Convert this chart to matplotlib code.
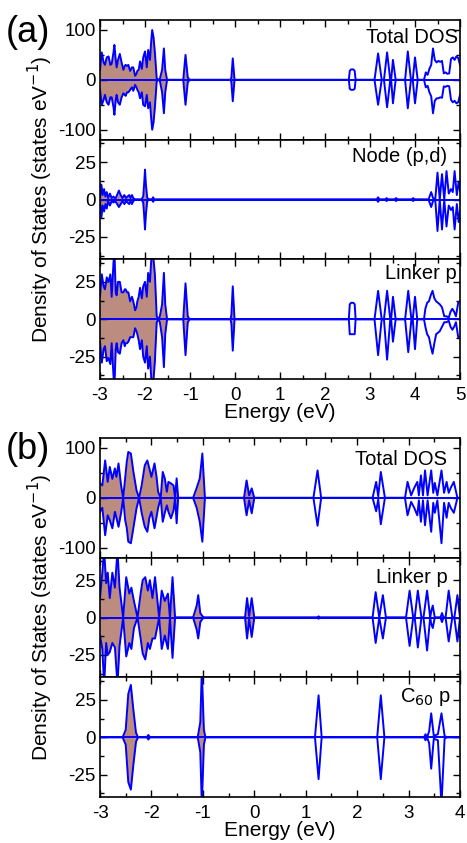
import numpy as np
import matplotlib
matplotlib.use("Agg")
import matplotlib.pyplot as plt
from matplotlib.ticker import MultipleLocator

plt.rcParams['font.family'] = ['Liberation Sans', 'DejaVu Sans']
plt.rcParams['axes.unicode_minus'] = False

# ---------------- Panel (a) ----------------
a_tot_E = [-3.00, -2.96, -2.92, -2.89, -2.85, -2.81, -2.77, -2.74, -2.70, -2.68, -2.65, -2.63, -2.60, -2.56,
           -2.52, -2.48, -2.45, -2.43, -2.40, -2.37, -2.33, -2.29, -2.26, -2.22, -2.19, -2.17, -2.14, -2.11,
           -2.07, -2.04, -2.00, -1.96, -1.93, -1.89, -1.86, -1.84, -1.81, -1.78, -1.74, -1.70, -1.67, -1.62,
           -1.58, -1.55, -1.51, -1.15, -1.10, -1.05, -1.01, -0.10, -0.08, -0.05, -0.01,
           2.53, 2.55, 2.58, 2.63, 2.66, 2.68,
           3.10, 3.18, 3.26, 3.31, 3.38, 3.45, 3.47, 3.51, 3.57,
           3.78, 3.84, 3.91, 3.95, 4.00, 4.06,
           4.20, 4.24, 4.28, 4.32, 4.36, 4.40, 4.44, 4.48, 4.52, 4.56, 4.60, 4.64, 4.68, 4.72, 4.76,
           4.80, 4.84, 4.88, 4.92, 4.96, 5.00]
a_tot_up = [20, 55, 35, 30, 45, 47, 30, 32, 55, 70, 40, 25, 40, 52,
            35, 20, 28, 30, 28, 30, 18, 25, 25, 8, 12, 18, 20, 37,
            22, 45, 57, 25, 60, 40, 80, 100, 85, 55, 3, 0, 2, 20,
            63, 20, 0, 0, 50, 5, 0, 0, 5, 43, 0,
            0, 18, 21, 21, 18, 0,
            0, 53, 0, 0, 55, 0, 0, 40, 0,
            0, 57, 0, 0, 45, 0,
            0, 15, 10, 22, 30, 63, 40, 35, 38, 36, 38, 13, 15, 12, 13,
            42, 45, 40, 47, 44, 30]
a_tot_dn = [-20, -50, -40, -30, -45, -50, -35, -35, -55, -70, -40, -30, -45, -50,
            -35, -27, -30, -32, -25, -25, -20, -15, -22, -10, -15, -20, -25, -37,
            -25, -50, -53, -30, -57, -45, -80, -100, -85, -55, -3, 0, -2, -25,
            -67, -25, 0, 0, -50, -5, 0, 0, -5, -43, 0,
            0, -18, -20, -20, -18, 0,
            0, -50, 0, 0, -55, 0, 0, -47, 0,
            0, -57, 0, 0, -47, 0,
            0, -15, -12, -25, -33, -67, -42, -37, -37, -35, -36, -13, -14, -12, -13,
            -40, -45, -42, -47, -45, -30]

a_node_E = [-3.00, -2.97, -2.94, -2.91, -2.88, -2.85, -2.82, -2.78, -2.74, -2.70, -2.66, -2.62, -2.58,
            -2.54, -2.50, -2.46, -2.42, -2.39, -2.35, -2.32, -2.29, -2.26, -2.22, -2.08, -2.04, -2.02,
            -2.00, -1.98, -1.95, -1.90, -1.85, -1.82, -1.79,
            3.15, 3.18, 3.21, 3.34, 3.37, 3.40, 3.55, 3.58, 3.61, 3.93, 3.96, 3.99,
            4.30, 4.36, 4.40, 4.45, 4.50, 4.55, 4.60, 4.65, 4.70, 4.75, 4.80, 4.84, 4.88, 4.93, 4.97, 5.00]
a_node_up = [0, 10, 3, 7, 2, 5, 1, 4, 1, 2, 0.5, 3, 6,
             3, 1, 3, 1, 2, 3, 1, 3, 1, 0, 0, 2, 10,
             20, 10, 1, 0, 0, 1.5, 0,
             0, 1.5, 0, 0, 1, 0, 0, 1, 0, 0, 1, 0,
             0, 5, 1, 0, 18, 0, 17, 0, 19, 4, 7, 5, 19, 3, 12, 6]
a_node_dn = [0, -12, -4, -8, -3, -6, -1, -4, -1, -2, -1, -3, -5,
             -3, -1, -3, -1, -2, -3, -1, -3, -1, 0, 0, -2, -10,
             -20, -10, -1, 0, 0, -1.5, 0,
             0, -1.5, 0, 0, -1, 0, 0, -1, 0, 0, -1, 0,
             0, -5, -1, 0, -21, 0, -20, 0, -18, -4, -7, -5, -20, -3, -15, -8]

a_link_E = a_tot_E[:53] + [
    2.53, 2.55, 2.58, 2.63, 2.66, 2.68,
    3.10, 3.18, 3.26, 3.31, 3.38, 3.45, 3.47, 3.51, 3.57,
    3.78, 3.85, 3.92, 3.95, 4.00, 4.05,
    4.20, 4.23, 4.27, 4.31, 4.35, 4.39, 4.43, 4.47, 4.51, 4.55, 4.60, 4.65, 4.70, 4.75,
    4.79, 4.83, 4.87, 4.91, 4.96, 5.00]
a_link_up = [15, 30, 22, 20, 28, 25, 30, 15, 38, 45, 18, 16, 25, 25,
             18, 18, 20, 20, 18, 18, 12, 15, 12, 6, 8, 12, 15, 21,
             14, 22, 25, 15, 31, 25, 40, 48, 40, 30, 2, 0, 2, 10,
             31, 10, 0, 0, 24, 2, 0, 0, 3, 22, 0,
             0, 10, 11, 11, 10, 0,
             0, 19, 0, 0, 19, 0, 0, 15, 0,
             0, 19, 0, 0, 15, 0,
             0, 7, 11, 12, 16, 19, 14, 12, 11, 10, 8, 2, 2, 1,
             5, 7, 5, 2, 11, 12]
a_link_dn = [-15, -29, -20, -18, -28, -26, -30, -16, -38, -45, -20, -16, -22, -23,
             -16, -14, -18, -16, -16, -15, -12, -12, -12, -6, -8, -10, -14, -20,
             -14, -25, -29, -18, -33, -25, -40, -48, -40, -28, -2, 0, -2, -12,
             -32, -10, 0, 0, -24, -2, 0, 0, -3, -21, 0,
             0, -10, -10, -10, -10, 0,
             0, -24, 0, 0, -27, 0, 0, -15, 0,
             0, -22, 0, 0, -20, 0,
             0, -5, -10, -12, -18, -23, -16, -10, -9, -8, -5, -2, -2, -1,
             -5, -7, -5, -2, -12, -12]

# ---------------- Panel (b) ----------------
b_tot_E = [-3.00, -2.955, -2.90, -2.85, -2.81, -2.76, -2.71, -2.68, -2.64, -2.59, -2.55, -2.51, -2.48,
           -2.45, -2.40, -2.35, -2.29, -2.24, -2.19, -2.13, -2.08, -2.04, -2.00, -1.94, -1.90, -1.87,
           -1.82, -1.78, -1.74, -1.70, -1.67, -1.62, -1.57, -1.54, -1.51, -1.48,
           -1.19, -1.12, -1.06, -1.01, -0.96, -0.20, -0.15, -0.10, -0.05, 0.00,
           1.15, 1.23, 1.30, 2.30, 2.37, 2.41, 2.46, 2.54,
           2.93, 2.98, 3.05, 3.11, 3.17, 3.20, 3.24, 3.28, 3.32, 3.37, 3.44, 3.48, 3.51, 3.56,
           3.64, 3.69, 3.74, 3.78, 3.82, 3.88, 3.95, 4.00]
b_tot_up = [29, 25, 75, 32, 62, 38, 59, 42, 69, 25, 0, 40, 72,
            92, 89, 52, 15, 0, 25, 65, 75, 59, 42, 69, 42, 12,
            0, 52, 39, 12, 32, 29, 25, 0, 39, 0,
            0, 20, 39, 89, 0, 0, 35, 5, 19, 0,
            0, 55, 0, 0, 32, 3, 52, 0,
            0, 32, 5, 20, 32, 5, 45, 5, 55, 5, 55, 10, 30, 5,
            55, 10, 32, 10, 20, 32, 0, 0]
b_tot_dn = [-28, -20, -75, -35, -45, -61, -28, -40, -58, -30, 0, -45, -60,
            -88, -91, -60, -21, 0, -30, -58, -68, -40, -28, -61, -38, -20,
            0, -48, -30, -15, -28, -41, -25, 0, -51, 0,
            0, -20, -48, -88, 0, 0, -35, -5, -31, 0,
            0, -56, 0, 0, -27, -3, -53, 0,
            0, -35, -8, -20, -35, -5, -48, -5, -55, -5, -68, -10, -30, -5,
            -91, -10, -40, -10, -20, -30, 0, 0]

b_link_E = [-3.00, -2.955, -2.92, -2.88, -2.85, -2.81, -2.76, -2.71, -2.66, -2.62, -2.55, -2.49, -2.43,
            -2.39, -2.34, -2.27, -2.21, -2.17, -2.12, -2.07, -2.03, -1.98, -1.93, -1.85, -1.80, -1.74,
            -1.68, -1.64, -1.59, -1.54,
            -1.19, -1.12, -1.09, -1.05, -1.01, -0.98, -0.18, -0.14, -0.10, -0.05, 0.00,
            1.22, 1.25, 1.28, 2.30, 2.36, 2.43, 2.50, 2.56,
            2.95, 3.02, 3.09, 3.12, 3.18, 3.25, 3.29, 3.36, 3.42, 3.44, 3.47, 3.51,
            3.62, 3.65, 3.68, 3.72, 3.78, 3.85, 3.89, 3.95, 4.00]
b_link_up = [13, 30, 45, 23, 30, 13, 30, 20, 45, 20, 0, 27, 16,
             20, 11, 0, 16, 25, 27, 18, 25, 13, 27, 0, 18, 11,
             16, 0, 27, 0,
             0, 8, 15, 3, 1, 0, 0, 13, 1, 13, 0,
             0, 0.8, 0, 0, 17, 0, 15, 0,
             0, 18, 0, 0, 18, 0, 0, 18, 0, 4, 8, 0,
             0, 3, 0, 0, 18, 0, 0, 15, 0]
b_link_dn = [-12, -21, -45, -17, -25, -23, -17, -20, -45, -19, 0, -26, -17,
             -21, -7, 0, -14, -24, -28, -17, -21, -14, -14, 0, -21, -12,
             -21, 0, -27, 0,
             0, -8, -14, -3, -1, 0, 0, -14, -1, -13, 0,
             0, -0.8, 0, 0, -17, 0, -14, 0,
             0, -19, 0, 0, -20, 0, 0, -22, 0, -4, -7, 0,
             0, -3, 0, 0, -16, 0, 0, -16, 0]

b_c60_E = [-3.00, -2.56, -2.50, -2.45, -2.40, -2.35, -2.30, -2.26, -2.09, -2.06, -2.03,
           -1.10, -1.05, -1.02, -0.98, -0.95,
           1.18, 1.25, 1.31, 2.39, 2.46, 2.53,
           3.30, 3.33, 3.36, 3.40, 3.44, 3.49, 3.57, 3.64, 3.70, 3.74, 4.00]
b_c60_up = [0, 0, 5, 29, 35, 18, 3, 0, 0, 1.5, 0,
            0, 10, 45, 5, 0,
            0, 28, 0, 0, 28, 0,
            0, 2, 0, 4, 16, 1, 2, 16, 1, 0, 0]
b_c60_dn = [0, 0, -5, -30, -35, -18, -3, 0, 0, -1.5, 0,
            0, -10, -45, -5, 0,
            0, -28, 0, 0, -28, 0,
            0, -2, 0, -4, -21, -1, -2, -45, -1, 0, 0]

panel_a = [("Total DOS", a_tot_E, a_tot_up, a_tot_dn),
           ("Node (p,d)", a_node_E, a_node_up, a_node_dn),
           ("Linker p", a_link_E, a_link_up, a_link_dn)]
panel_b = [("Total DOS", b_tot_E, b_tot_up, b_tot_dn),
           ("Linker p", b_link_E, b_link_up, b_link_dn),
           ("C$_{60}$ p", b_c60_E, b_c60_up, b_c60_dn)]

LINE = '#0000ff'
FILL = '#bc8c80'
W, H = 467, 843
fig = plt.figure(figsize=(W / 100, H / 100), dpi=100)

left = 100 / W
width = 360 / W
sub_h = 119.7 / H


def draw_panel(panel, top_px, xlim, letter, label_pos):
    axes = []
    for i, (name, E, up, dn) in enumerate(panel):
        y0 = 1 - (top_px + (i + 1) * 119.7) / H
        ax = fig.add_axes([left, y0, width, sub_h])
        E = np.array(E, float)
        up = np.array(up, float)
        dn = np.array(dn, float)
        occ = E <= 0.02
        ax.fill_between(E, dn, up, where=occ, color=FILL, lw=0, interpolate=True)
        ax.axhline(0, color=LINE, lw=1.4)
        ax.plot(E, up, color=LINE, lw=1.4)
        ax.plot(E, dn, color=LINE, lw=1.4)
        ax.set_xlim(*xlim)
        if i == 0:
            ax.set_ylim(-120, 120)
            ax.yaxis.set_major_locator(MultipleLocator(100))
            ax.yaxis.set_minor_locator(MultipleLocator(50))
        else:
            ax.set_ylim(-40, 40)
            ax.yaxis.set_major_locator(MultipleLocator(25))
            ax.yaxis.set_minor_locator(MultipleLocator(12.5))
        ax.xaxis.set_major_locator(MultipleLocator(1))
        ax.xaxis.set_minor_locator(MultipleLocator(0.5))
        ax.tick_params(which='both', direction='in', top=True, right=True, width=1.0,
                       labelsize=13.5, pad=3)
        ax.tick_params(which='major', length=5)
        ax.tick_params(which='minor', length=3)
        ax.tick_params(axis='x', pad=6)
        for s in ax.spines.values():
            s.set_linewidth(1.2)
        tx, ty = label_pos[i]
        ax.text(tx, ty, name, transform=ax.transAxes, ha='right', va='top', fontsize=14.5)
        if i < 2:
            ax.tick_params(axis='x', labelbottom=False)
        else:
            ax.set_xlabel("Energy (eV)", fontsize=15, labelpad=-1)
        axes.append(ax)
    axes[1].set_ylabel("Density of States (states eV$^{-1}$)", fontsize=15)
    axes[1].yaxis.set_label_coords(-0.125, 0.5)
    fig.text(6 / W, 1 - (top_px + 12) / H, letter, fontsize=26, ha='left', va='center')
    return axes


draw_panel(panel_a, 20, (-3, 5), "(a)", [(0.995, 0.93), (0.965, 0.94), (0.99, 0.96)])
draw_panel(panel_b, 438, (-3, 4), "(b)", [(0.965, 0.90), (0.965, 0.91), (0.975, 0.93)])

fig.savefig("out.png", dpi=100)
